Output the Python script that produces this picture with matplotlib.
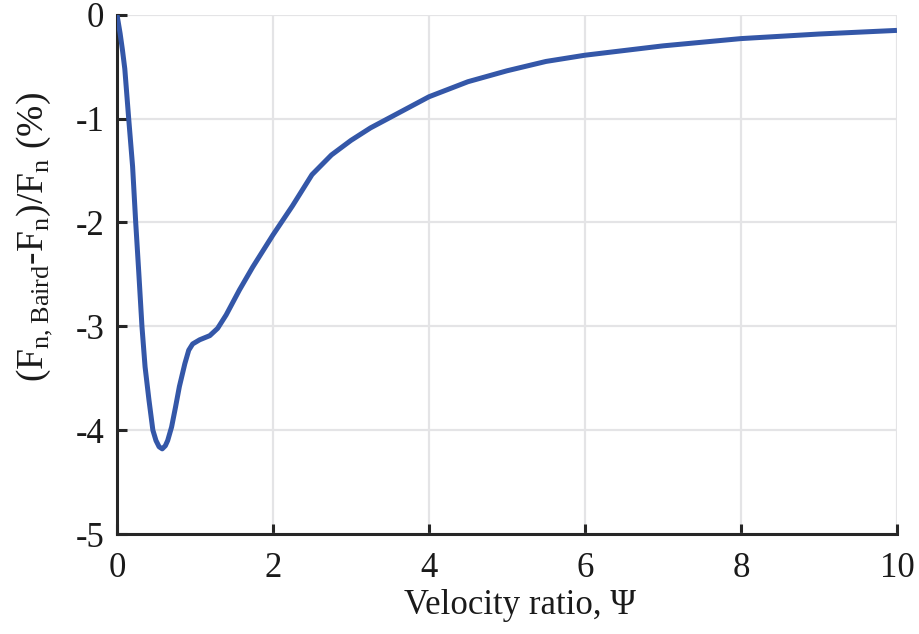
import matplotlib
matplotlib.use('Agg')
import matplotlib.pyplot as plt

# values
psi = [0, 0.04, 0.07, 0.10, 0.15, 0.20, 0.24, 0.28, 0.32, 0.36, 0.41, 0.46,
       0.50, 0.54, 0.58, 0.62, 0.65, 0.70, 0.75, 0.80, 0.87, 0.92, 0.97,
       1.06, 1.19, 1.29, 1.40, 1.57, 1.74, 2.0, 2.25, 2.5, 2.75, 3.0, 3.25,
       3.5, 3.75, 4.0, 4.5, 5.0, 5.5, 6.0, 7.0, 8.0, 9.0, 10.0]
err = [0, -0.18, -0.34, -0.52, -1.0, -1.46, -2.0, -2.49, -3.0, -3.39, -3.71,
       -4.0, -4.1, -4.16, -4.18, -4.15, -4.1, -3.97, -3.78, -3.58, -3.36,
       -3.23, -3.17, -3.13, -3.09, -3.02, -2.89, -2.65, -2.43, -2.12, -1.84,
       -1.54, -1.35, -1.21, -1.09, -0.99, -0.89, -0.79, -0.645, -0.54, -0.45,
       -0.39, -0.30, -0.23, -0.186, -0.151]

x_ticks = [0, 2, 4, 6, 8, 10]
y_ticks = [0, -1, -2, -3, -4, -5]

plt.rcParams['font.family'] = ['Liberation Serif', 'DejaVu Serif']
plt.rcParams['mathtext.fontset'] = 'custom'
plt.rcParams['mathtext.rm'] = 'Liberation Serif'
plt.rcParams['axes.unicode_minus'] = False

fig = plt.figure(figsize=(9.19, 6.34), dpi=100)
ax = fig.add_axes([0.1273, 0.1577, 0.8487, 0.8191])

ax.plot(psi, err, color='#3457a8', lw=3.6, solid_capstyle='butt',
        solid_joinstyle='round', zorder=3)

ax.set_xlim(0, 10)
ax.set_ylim(-5, 0)
ax.set_xticks(x_ticks)
ax.set_yticks(y_ticks)
ax.grid(True, color='#e4e4e6', lw=1.6)
ax.set_axisbelow(True)

for s in ['top', 'right']:
    ax.spines[s].set_visible(False)
for s in ['left', 'bottom']:
    ax.spines[s].set_color('#262626')
    ax.spines[s].set_linewidth(2.2)

ax.tick_params(direction='in', length=7, width=2.2, color='#262626',
               labelsize=25, pad=9, labelcolor='#1a1a1a')
ax.tick_params(axis='x', pad=13)

ax.set_xlabel('Velocity ratio, \u03a8', fontsize=25, color='#1a1a1a', labelpad=3)
ax.set_ylabel('(F$_{\\mathrm{n,Baird}}$-F$_{\\mathrm{n}}$)/F$_{\\mathrm{n}}$ (%)',
              fontsize=27, color='#1a1a1a', labelpad=15)
ax.xaxis.label.set_x(0.517)
ax.yaxis.label.set_y(0.572)

fig.savefig('out.png', dpi=100)
